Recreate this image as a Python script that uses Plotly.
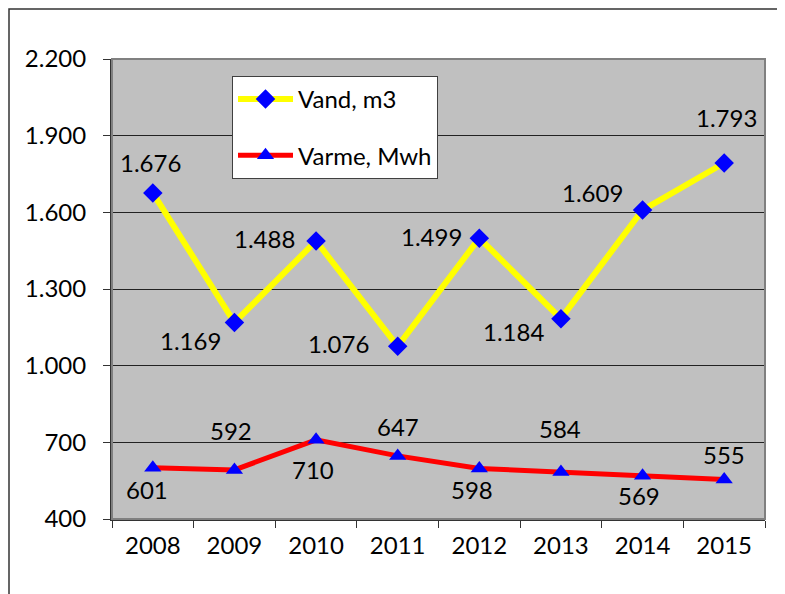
import plotly.graph_objects as go

years = ["2008", "2009", "2010", "2011", "2012", "2013", "2014", "2015"]
vand = [1676, 1169, 1488, 1076, 1499, 1184, 1609, 1793]
varme = [601, 592, 710, 647, 598, 584, 569, 555]
y_ticks = [400, 700, 1000, 1300, 1600, 1900, 2200]

# label offsets in pixels (dx right, dy down) relative to the point
vand_dx = [-2, -44, -52, -59, -48, -47, -50, 2]
vand_dy = [-30, 18, -2, -3, -2, 13, -18, -46]
varme_dx = [-6, -3, -3, 0, -7, -1, -4, 0]
varme_dy = [22, -39, 30, -29, 21, -43, 20, -25]

FONT = "Lato, 'Open Sans', sans-serif"
FS = 24
OFF = 8  # page body margin
W, H = 785, 594
L, T = 112 - OFF, 59 - OFF
R = W - (765 - OFF)
B = H - (519 - OFF)
pw, ph = W - L - R, H - T - B


def fmt(v):
    return f"{v:,}".replace(",", ".")


fig = go.Figure()
fig.add_trace(go.Scatter(
    x=years, y=vand, name="Vand, m3", mode="lines+markers",
    line=dict(color="#ffff00", width=6),
    marker=dict(symbol="diamond", size=15, color="#0000ff"),
    legendgroup="a", hoverinfo="skip"))
fig.add_trace(go.Scatter(
    x=years, y=varme, name="Varme, Mwh", mode="lines+markers",
    line=dict(color="#ff0000", width=5),
    marker=dict(symbol="triangle-up", size=15, color="#0000ff"),
    legendgroup="b", hoverinfo="skip"))

ann = []
for ys, dxs, dys in ((vand, vand_dx, vand_dy), (varme, varme_dx, varme_dy)):
    for i, (y, dx, dy) in enumerate(zip(ys, dxs, dys)):
        ann.append(dict(x=i, y=y, xref="x", yref="y", text=fmt(y), showarrow=False,
                        xshift=dx, yshift=-dy, font=dict(family=FONT, size=FS, color="#000")))

shapes = [
    # outer chart frame (left/top visible)
    dict(type="rect", xref="paper", yref="paper",
         x0=(9 - OFF - L) / pw, x1=(W + 20 - L) / pw,
         y0=-(H + 20 - T - ph) / ph, y1=1 + (T - (9 - OFF)) / ph,
         line=dict(color="#333333", width=1.5), layer="above"),
    # plot area border
    dict(type="rect", xref="paper", yref="paper", x0=0, x1=1, y0=0, y1=1,
         line=dict(color="#808080", width=2), layer="above"),
]

fig.update_layout(
    width=W, height=H,
    margin=dict(l=L, r=R, t=T, b=B, pad=0),
    paper_bgcolor="white", plot_bgcolor="#c0c0c0",
    separators=",.",
    font=dict(family=FONT, size=FS, color="#000"),
    showlegend=True,
    legend=dict(x=(232 - OFF - L) / pw, y=1 - (76 - 59) / ph, xanchor="left", yanchor="top",
                bgcolor="white", bordercolor="#404040", borderwidth=1,
                font=dict(family=FONT, size=FS), tracegroupgap=22,
                itemwidth=55),
    annotations=ann, shapes=shapes,
    xaxis=dict(type="category", showgrid=False, ticks="outside", ticklen=7,
               tickcolor="#333", tickson="boundaries", showline=True,
               linecolor="#333", linewidth=1.5,
               tickfont=dict(family=FONT, size=FS), ticklabelstandoff=4,
               range=[-0.5, len(years) - 0.5], fixedrange=True),
    yaxis=dict(range=[400, 2200], tickvals=y_ticks, tickformat=",d",
               showgrid=True, gridcolor="#222", gridwidth=1,
               ticks="outside", ticklen=7, tickcolor="#333",
               showline=True, linecolor="#333", linewidth=2,
               zeroline=False, tickfont=dict(family=FONT, size=FS),
               ticklabelstandoff=12, fixedrange=True),
)

fig.write_html("out.html")
